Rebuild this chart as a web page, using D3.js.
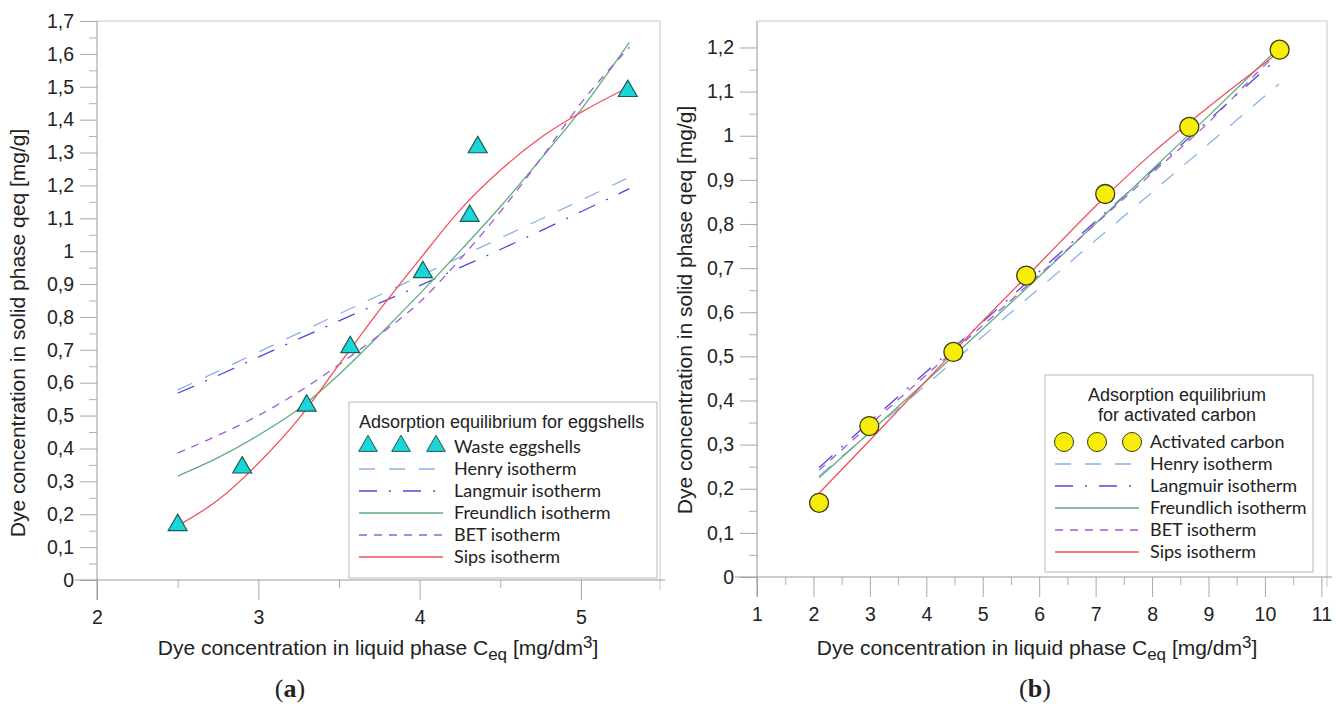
<!DOCTYPE html>
<html>
<head>
<meta charset="utf-8">
<script src="https://cdn.jsdelivr.net/npm/d3@7/dist/d3.min.js"></script>
<style>
  body { margin: 0; background: #fff; }
  text { font-family: "Liberation Sans", Arial, sans-serif; fill: #222; }
  .leg { font-family: Lato, "Open Sans", sans-serif; }
</style>
</head>
<body>
<svg width="1336" height="709"></svg>
<script>
// ---- (a) waste eggshells ----
var eggC = [2.5, 2.9, 3.3, 3.57, 4.02, 4.31, 4.36, 5.29];
var eggQ = [0.167, 0.342, 0.53, 0.708, 0.936, 1.107, 1.316, 1.487];
var eggFitC = [2.5, 2.75, 3, 3.25, 3.5, 3.75, 4, 4.25, 4.5, 4.75, 5, 5.3];
var eggHenry = [0.578, 0.635, 0.693, 0.751, 0.809, 0.866, 0.924, 0.982, 1.04, 1.097, 1.155, 1.225];
var eggLangmuir = [0.568, 0.622, 0.678, 0.733, 0.788, 0.842, 0.895, 0.95, 1.005, 1.062, 1.12, 1.19];
var eggFreundlich = [0.316, 0.372, 0.44, 0.52, 0.625, 0.745, 0.87, 1.0, 1.135, 1.28, 1.43, 1.635];
var eggBET = [0.386, 0.44, 0.5, 0.572, 0.655, 0.745, 0.845, 0.975, 1.12, 1.28, 1.45, 1.62];
var eggSips = [0.165, 0.243, 0.355, 0.49, 0.655, 0.82, 0.975, 1.125, 1.246, 1.345, 1.422, 1.5];

// ---- (b) activated carbon ----
var carbC = [2.1, 2.99, 4.48, 5.77, 7.17, 8.66, 10.26];
var carbQ = [0.168, 0.342, 0.51, 0.683, 0.868, 1.02, 1.195];
var carbFitC = [2.1, 3, 4, 5, 6, 7, 8, 9, 10, 10.25];
var carbHenry = [0.229, 0.327, 0.436, 0.545, 0.654, 0.763, 0.872, 0.981, 1.09, 1.117];
var carbLangmuir = [0.248, 0.352, 0.465, 0.578, 0.692, 0.806, 0.92, 1.035, 1.15, 1.178];
var carbFreundlich = [0.225, 0.328, 0.444, 0.562, 0.681, 0.801, 0.923, 1.045, 1.169, 1.2];
var carbBET = [0.242, 0.345, 0.458, 0.57, 0.685, 0.8, 0.915, 1.03, 1.16, 1.19];
var carbSips = [0.19, 0.31, 0.445, 0.58, 0.71, 0.84, 0.96, 1.065, 1.165, 1.19];

var seriesNames = ["Henry isotherm", "Langmuir isotherm", "Freundlich isotherm", "BET isotherm", "Sips isotherm"];
var seriesColors = ["#86b4e8", "#5547dd", "#5fae7d", "#a05cd2", "#f2505c"];
var seriesDash = ["16,14", "18,12,2,12", null, "8,7", null];

var svg = d3.select("svg");
svg.append("rect").attr("width", 1336).attr("height", 709).attr("fill", "#fff");

function fmt(v) {
    var s = d3.format(".1f")(v).replace(".", ",");
    if (s == "0,0") return "0";
    if (s == "1,0") return "1";
    return s;
}

function drawPanel(p) {
    var g = svg.append("g");
    var x = d3.scaleLinear().domain(p.xDomain).range(p.xRange);
    var y = d3.scaleLinear().domain(p.yDomain).range(p.yRange);
    var x0 = p.xRange[0], x1 = p.xRange[1], y0 = p.yRange[0], y1 = p.yRange[1];

    // frame (top + right)
    g.append("path")
        .attr("d", "M" + x0 + "," + y1 + "H" + x1 + "V" + (y0 + 10))
        .attr("fill", "none").attr("stroke", "#c8c8c8");

    // minor ticks
    g.append("g").attr("transform", "translate(" + x0 + ",0)")
        .call(d3.axisLeft(y).tickValues(p.yMinor).tickSize(8).tickFormat(""))
        .call(function (s) { s.select(".domain").remove(); s.selectAll("line").attr("stroke", "#b0b0b0"); });
    g.append("g").attr("transform", "translate(0," + y0 + ")")
        .call(d3.axisBottom(x).tickValues(p.xMinor).tickSize(8).tickFormat(""))
        .call(function (s) { s.select(".domain").remove(); s.selectAll("line").attr("stroke", "#b0b0b0"); });

    // major ticks
    var ya = g.append("g").attr("transform", "translate(" + x0 + ",0)")
        .call(d3.axisLeft(y).tickValues(p.yTicks).tickSize(17).tickPadding(6).tickFormat(fmt));
    ya.select(".domain").remove();
    ya.selectAll("line").attr("stroke", "#a8a8a8");
    ya.selectAll("text").attr("font-size", 19.5).attr("fill", "#222")
        .attr("font-family", "Liberation Sans, Arial, sans-serif");

    var xa = g.append("g").attr("transform", "translate(0," + y0 + ")")
        .call(d3.axisBottom(x).tickValues(p.xTicks).tickSize(20).tickPadding(10).tickFormat(d3.format("d")));
    xa.select(".domain").remove();
    xa.selectAll("line").attr("stroke", "#a8a8a8");
    xa.selectAll("text").attr("font-size", 19.5).attr("fill", "#222")
        .attr("font-family", "Liberation Sans, Arial, sans-serif");

    // axis lines
    g.append("line").attr("x1", x0 - 22).attr("x2", x1 + 5).attr("y1", y0).attr("y2", y0)
        .attr("stroke", "#999");
    g.append("line").attr("x1", x0).attr("x2", x0).attr("y1", y1).attr("y2", y0 + 20)
        .attr("stroke", "#999");

    // axis titles
    var xt = g.append("text").attr("x", p.xTitleX).attr("y", 655)
        .attr("text-anchor", "middle").attr("font-size", 21);
    xt.append("tspan").text("Dye concentration in liquid phase C");
    xt.append("tspan").attr("dy", 5).attr("font-size", 17).text("eq");
    xt.append("tspan").attr("dy", -5).text(" [mg/dm");
    xt.append("tspan").attr("dy", -7).attr("font-size", 17).text("3");
    xt.append("tspan").attr("dy", 7).text("]");

    g.append("text")
        .attr("transform", "translate(" + p.yTitleX + "," + p.yTitleY + ") rotate(-90)")
        .attr("text-anchor", "middle").attr("font-size", 21)
        .text("Dye concentration in solid phase qeq [mg/g]");

    // panel letter
    var lt = g.append("text").attr("x", p.letterX).attr("y", 697).attr("text-anchor", "middle")
        .attr("font-size", 26).style("font-family", "Liberation Serif, Times New Roman, serif");
    lt.append("tspan").text("(");
    lt.append("tspan").attr("font-weight", "bold").text(p.letter);
    lt.append("tspan").text(")");

    // fitted isotherms
    var line = d3.line().curve(d3.curveMonotoneX)
        .x(function (d) { return x(d[0]); }).y(function (d) { return y(d[1]); });
    p.fits.forEach(function (vals, i) {
        g.append("path")
            .datum(p.fitC.map(function (c, j) { return [c, vals[j]]; }))
            .attr("d", line)
            .attr("fill", "none")
            .attr("stroke", seriesColors[i])
            .attr("stroke-width", 1.3)
            .attr("stroke-dasharray", seriesDash[i]);
    });

    // measured points
    var pts = p.pointC.map(function (c, j) { return [c, p.pointQ[j]]; });
    if (p.marker == "triangle") {
        g.selectAll(".pt").data(pts).enter().append("path")
            .attr("d", d3.symbol().type(d3.symbolTriangle).size(155))
            .attr("transform", function (d) { return "translate(" + x(d[0]) + "," + y(d[1]) + ")"; })
            .attr("fill", "#1ad6d6").attr("stroke", "#1f5858").attr("stroke-width", 1.2);
    } else {
        g.selectAll(".pt").data(pts).enter().append("circle")
            .attr("cx", function (d) { return x(d[0]); })
            .attr("cy", function (d) { return y(d[1]); })
            .attr("r", 9.5)
            .attr("fill", "#f6ee08").attr("stroke", "#3a3a1a").attr("stroke-width", 1.3);
    }

    // legend
    var L = p.legend;
    var lg = g.append("g");
    lg.append("rect").attr("x", L.x).attr("y", L.y).attr("width", L.w).attr("height", L.h)
        .attr("fill", "#fff").attr("stroke", "#b8b8b8");
    L.title.forEach(function (t, i) {
        lg.append("text").attr("x", L.titleX).attr("y", L.titleY + i * 20)
            .attr("text-anchor", L.titleAnchor).attr("font-size", 18).text(t);
    });
    var rowY = L.rowY;
    var sx0 = L.x + 10, sx1 = L.x + 94;
    // marker row
    [sx0 + 9, (sx0 + sx1) / 2, sx1 - 7].forEach(function (mx) {
        if (p.marker == "triangle") {
            lg.append("path").attr("d", d3.symbol().type(d3.symbolTriangle).size(150))
                .attr("transform", "translate(" + mx + "," + (rowY - 1) + ")")
                .attr("fill", "#1ad6d6").attr("stroke", "#1f5858").attr("stroke-width", 1);
        } else {
            lg.append("circle").attr("cx", mx).attr("cy", rowY).attr("r", 9.5)
                .attr("fill", "#f6ee08").attr("stroke", "#3a3a1a").attr("stroke-width", 1);
        }
    });
    lg.append("text").attr("class", "leg").attr("x", L.x + 105).attr("y", rowY + 6)
        .attr("font-size", 18).text(p.pointName);
    seriesNames.forEach(function (n, i) {
        var ry = rowY + (i + 1) * L.step;
        lg.append("line").attr("x1", sx0).attr("x2", sx1).attr("y1", ry).attr("y2", ry)
            .attr("stroke", seriesColors[i]).attr("stroke-width", 1.5)
            .attr("stroke-dasharray", seriesDash[i]);
        lg.append("text").attr("class", "leg").attr("x", L.x + 105).attr("y", ry + 6)
            .attr("font-size", 18).text(n);
    });
}

drawPanel({
    xDomain: [2, 5.49], xRange: [97, 660],
    yDomain: [0, 1.7], yRange: [580, 21],
    xTicks: [2, 3, 4, 5], xMinor: [2.5, 3.5, 4.5],
    yTicks: d3.range(0, 18).map(function (i) { return i / 10; }),
    yMinor: d3.range(0, 17).map(function (i) { return i / 10 + 0.05; }),
    xTitleX: 378, yTitleX: 25, yTitleY: 333, letter: "a", letterX: 290,
    fitC: eggFitC,
    fits: [eggHenry, eggLangmuir, eggFreundlich, eggBET, eggSips],
    pointC: eggC, pointQ: eggQ, marker: "triangle", pointName: "Waste eggshells",
    legend: { x: 349, y: 402, w: 308, h: 176, title: ["Adsorption equilibrium for eggshells"],
              titleX: 359, titleY: 428, titleAnchor: "start", rowY: 447, step: 22 }
});

drawPanel({
    xDomain: [1, 11.1], xRange: [757, 1327],
    yDomain: [0, 1.26], yRange: [577, 21],
    xTicks: d3.range(1, 12), xMinor: d3.range(1, 11).map(function (i) { return i + 0.5; }),
    yTicks: d3.range(0, 13).map(function (i) { return i / 10; }),
    yMinor: d3.range(0, 12).map(function (i) { return i / 10 + 0.05; }),
    xTitleX: 1037, yTitleX: 692, yTitleY: 310, letter: "b", letterX: 1035,
    fitC: carbFitC,
    fits: [carbHenry, carbLangmuir, carbFreundlich, carbBET, carbSips],
    pointC: carbC, pointQ: carbQ, marker: "circle", pointName: "Activated carbon",
    legend: { x: 1045, y: 375, w: 268, h: 197, title: ["Adsorption equilibrium", "for activated carbon"],
              titleX: 1177, titleY: 401, titleAnchor: "middle", rowY: 442, step: 22 }
});
</script>
</body>
</html>
